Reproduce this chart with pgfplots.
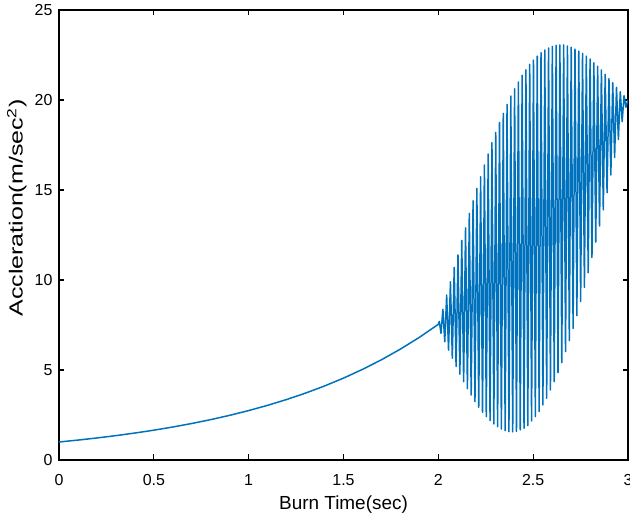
\documentclass[border=0pt]{standalone}
\usepackage{fontspec}
\setmainfont{Liberation Sans}
\usepackage{pgfplots}
\pgfplotsset{compat=1.18}
\definecolor{mblue}{RGB}{0,114,189}
\pgfplotstableread{
x y
0.0 1.000
0.1 1.106
0.2 1.224
0.3 1.354
0.4 1.498
0.5 1.657
0.6 1.833
0.7 2.028
0.8 2.243
0.9 2.482
1.0 2.746
1.1 3.037
1.2 3.360
1.3 3.717
1.4 4.112
1.5 4.549
1.6 5.033
1.7 5.568
1.8 6.160
1.9 6.814
2.0 7.538
2.005 7.70
2.0140 7.04
2.0240 8.37
2.0339 6.57
2.0439 9.17
2.0538 6.10
2.0638 9.90
2.0737 5.65
2.0837 10.70
2.0936 5.19
2.1036 11.40
2.1135 4.76
2.1235 12.20
2.1334 4.35
2.1434 12.90
2.1533 3.96
2.1633 13.70
2.1732 3.61
2.1832 14.40
2.1931 3.24
2.2031 15.09
2.2130 2.92
2.2230 15.74
2.2329 2.65
2.2429 16.39
2.2528 2.41
2.2628 17.00
2.2727 2.19
2.2827 17.63
2.2926 2.00
2.3026 18.20
2.3125 1.85
2.3225 18.76
2.3324 1.72
2.3424 19.26
2.3523 1.63
2.3623 19.76
2.3722 1.57
2.3822 20.22
2.3921 1.56
2.4021 20.63
2.4120 1.59
2.4220 21.00
2.4319 1.67
2.4419 21.37
2.4518 1.76
2.4618 21.68
2.4717 1.91
2.4817 21.98
2.4916 2.17
2.5016 22.22
2.5115 2.41
2.5215 22.44
2.5314 2.69
2.5414 22.63
2.5513 3.06
2.5613 22.78
2.5712 3.43
2.5812 22.89
2.5911 3.89
2.6011 22.98
2.6110 4.35
2.6210 23.04
2.6309 4.85
2.6409 23.06
2.6508 5.41
2.6608 23.06
2.6707 6.02
2.6807 23.00
2.6906 6.63
2.7006 22.93
2.7105 7.31
2.7205 22.83
2.7304 8.02
2.7404 22.72
2.7503 8.80
2.7603 22.59
2.7702 9.59
2.7802 22.44
2.7901 10.40
2.8001 22.28
2.8100 11.25
2.8200 22.07
2.8299 12.10
2.8399 21.87
2.8498 13.00
2.8598 21.67
2.8697 13.90
2.8797 21.43
2.8896 14.85
2.8996 21.19
2.9095 15.83
2.9195 20.96
2.9294 16.80
2.9394 20.70
2.9493 17.80
2.9593 20.46
2.9692 18.80
2.9792 20.24
2.9891 19.60
3.0000 20.00
}\datatable
\begin{document}
\begin{tikzpicture}
\begin{axis}[
  at={(0,0)}, anchor=south west,
  scale only axis,
  width=569bp, height=450bp,
  xmin=0, xmax=3, ymin=0, ymax=25,
  xtick={0,0.5,1,1.5,2,2.5,3},
  xticklabels={0,0.5,1,1.5,2,2.5,3},
  ytick={0,5,10,15,20,25},
  yticklabels={0,5,10,15,20,25},
  tick align=inside,
  tick pos=both,
  major tick length=5.5bp,
  axis line style={line width=1.3pt, black},
  every tick/.style={black, line width=1.3pt},
  ticklabel style={font=\fontsize{16}{19}\selectfont},
  xticklabel style={yshift=-11bp},
  yticklabel style={xshift=-3bp},
  xlabel={Burn Time(sec)},
  ylabel={\scalebox{1.32}[1]{Accleration(m/sec\textsuperscript{2})}},
  label style={font=\fontsize{19}{23}\selectfont},
  xlabel style={at={(axis description cs:0.5,-0.099)}, anchor=center},
  ylabel style={at={(axis description cs:-0.074,0.56)}, anchor=center},
  clip=true,
]
\addplot[mblue, line width=1.5bp, line join=round] table[x=x,y=y] {\datatable};
\end{axis}
\pgfresetboundingbox
\useasboundingbox (-59bp,-60bp) rectangle (571bp,460bp);
\end{tikzpicture}
\end{document}
